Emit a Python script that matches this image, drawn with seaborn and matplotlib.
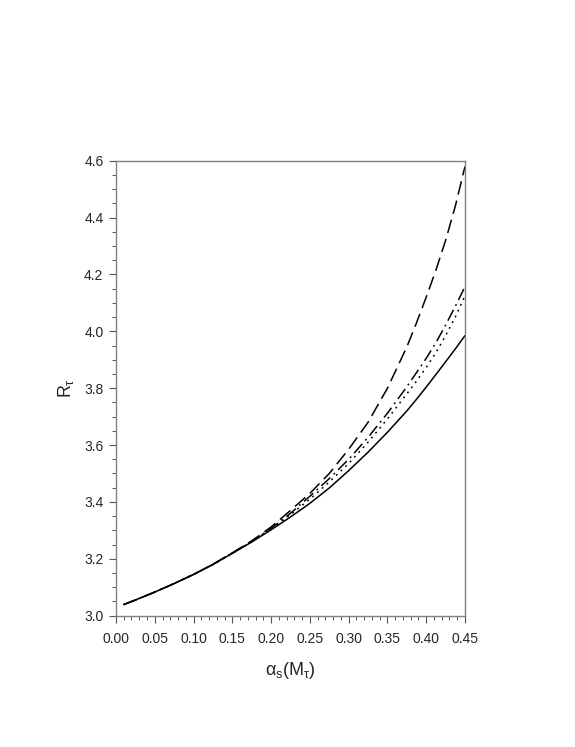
import numpy as np
import pandas as pd
import seaborn as sns
import matplotlib
matplotlib.use("Agg")
import matplotlib.pyplot as plt
from matplotlib.ticker import MultipleLocator

# alpha_s(M_tau) grid
alpha = [0.01, 0.025, 0.05, 0.075, 0.10, 0.125, 0.15, 0.175, 0.20, 0.225,
         0.25, 0.275, 0.30, 0.325, 0.35, 0.375, 0.3875, 0.40, 0.4125, 0.425,
         0.4375, 0.45]

# R_tau, one list per curve
r_solid = [3.039, 3.055, 3.083, 3.113, 3.145, 3.180, 3.219, 3.259, 3.302, 3.347,
           3.395, 3.449, 3.510, 3.575, 3.645, 3.720, 3.761, 3.804, 3.848, 3.893,
           3.938, 3.985]
r_dashed = [3.039, 3.055, 3.083, 3.113, 3.145, 3.181, 3.221, 3.263, 3.312, 3.370,
            3.430, 3.500, 3.585, 3.680, 3.800, 3.945, 4.030, 4.120, 4.215, 4.320,
            4.440, 4.580]
r_dashdot = [3.039, 3.055, 3.083, 3.113, 3.145, 3.180, 3.220, 3.261, 3.307, 3.360,
             3.420, 3.482, 3.550, 3.627, 3.712, 3.805, 3.855, 3.905, 3.960, 4.022,
             4.088, 4.157]
r_dotted = [3.039, 3.055, 3.083, 3.113, 3.145, 3.180, 3.220, 3.260, 3.305, 3.355,
            3.410, 3.470, 3.535, 3.610, 3.692, 3.780, 3.825, 3.873, 3.925, 3.985,
            4.050, 4.125]

curves = {
    "solid": (r_solid, "-"),
    "dashed": (r_dashed, (0, (9, 4))),
    "dashdot": (r_dashdot, (0, (8, 3, 1.2, 3))),
    "dotted": (r_dotted, (0, (1.2, 3))),
}

sns.set_style("white")
plt.rcParams["font.family"] = ["Liberation Sans", "DejaVu Sans"]
plt.rcParams["mathtext.fontset"] = "custom"
plt.rcParams["mathtext.rm"] = "Liberation Sans"
plt.rcParams["mathtext.it"] = "Liberation Sans"

fig = plt.figure(figsize=(5.75, 7.47), dpi=100)
ax = fig.add_axes([0.2017, 0.1758, 0.6070, 0.6091])

for name, (vals, ls) in curves.items():
    df = pd.DataFrame({"alpha": alpha, "R": vals})
    sns.lineplot(data=df, x="alpha", y="R", ax=ax, color="black",
                 linewidth=1.1, linestyle=ls)

ax.set_xlim(0, 0.45)
ax.set_ylim(3.0, 4.6)
ax.xaxis.set_major_locator(MultipleLocator(0.05))
ax.xaxis.set_minor_locator(MultipleLocator(0.01))
ax.yaxis.set_major_locator(MultipleLocator(0.2))
ax.yaxis.set_minor_locator(MultipleLocator(0.05))
ax.xaxis.set_major_formatter(plt.FormatStrFormatter("%.2f"))
ax.yaxis.set_major_formatter(plt.FormatStrFormatter("%.1f"))

for s in ax.spines.values():
    s.set_color("#808080")
    s.set_linewidth(1.0)

ax.tick_params(axis="both", which="major", direction="out", length=5,
               width=0.8, color="#555555", labelsize=10,
               bottom=True, left=True, top=False, right=False)
ax.tick_params(axis="x", which="major", pad=7)
ax.tick_params(axis="y", which="major", pad=4)
ax.tick_params(axis="both", which="minor", direction="out", length=3,
               width=0.7, color="#555555",
               bottom=True, left=True, top=False, right=False)

ax.set_xlabel(r"$\alpha_{s}(M_{\tau})$", fontsize=13, labelpad=10)
ax.set_ylabel(r"$R_{\tau}$", fontsize=13, labelpad=6)

fig.savefig("out.png", dpi=100)
